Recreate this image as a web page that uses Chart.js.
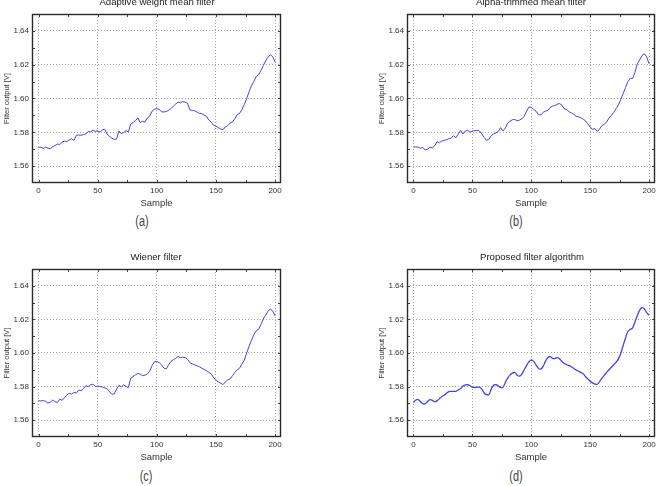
<!DOCTYPE html>
<html>
<head>
<meta charset="utf-8">
<script src="https://cdn.jsdelivr.net/npm/chart.js@4/dist/chart.umd.min.js"></script>
<style>
  html, body { margin: 0; padding: 0; background: #fff; }
  body { position: relative; width: 661px; height: 486px; overflow: hidden; font-family: "Liberation Sans", Arial, sans-serif; }
  canvas { position: absolute; }
  .ttl { position: absolute; width: 240px; text-align: center; font-size: 9.6px; line-height: 12px; color: #222; white-space: nowrap; }
  .lab { position: absolute; width: 40px; text-align: center; font-family: "Liberation Sans", Arial, sans-serif; font-size: 14px; line-height: 15px; color: #444; transform: scaleX(0.78); }
</style>
</head>
<body>
<canvas id="ca" width="291" height="205" style="left:0px;top:4px;"></canvas>
<canvas id="cb" width="290" height="205" style="left:375px;top:4px;"></canvas>
<canvas id="cc" width="291" height="204" style="left:0px;top:259px;"></canvas>
<canvas id="cd" width="290" height="204" style="left:375px;top:259px;"></canvas>

<div class="ttl" style="left:37px;top:-4px;">Adaptive weight mean filter</div>
<div class="ttl" style="left:411px;top:-4px;">Alpha-trimmed mean filter</div>
<div class="ttl" style="left:36px;top:251px;">Wiener filter</div>
<div class="ttl" style="left:412px;top:251px;">Proposed filter algorithm</div>

<div class="lab" style="left:122px;top:214px;">(a)</div>
<div class="lab" style="left:496px;top:214px;">(b)</div>
<div class="lab" style="left:126px;top:469px;">(c)</div>
<div class="lab" style="left:496px;top:469px;">(d)</div>

<script>
// ---- data ----
const samples = [0,2,4,6,8,10,12,14,16,18,20,22,24,26,28,30,32,34,36,38,40,42,44,46,48,50,52,54,56,58,60,62,64,66,68,70,72,74,76,78,80,82,84,86,88,90,92,94,96,98,100,102,104,106,108,110,112,114,116,118,120,122,124,126,128,130,132,134,136,138,140,142,144,146,148,150,152,154,156,158,160,162,164,166,168,170,172,174,176,178,180,182,184,186,188,190,192,194,196,198,200];

const adaptiveWeight = [1.5710,1.5712,1.5705,1.5712,1.5706,1.5703,1.5715,1.5722,1.5730,1.5728,1.5742,1.5748,1.5745,1.5755,1.5762,1.5752,1.5782,1.5784,1.5783,1.5786,1.5790,1.5805,1.5802,1.5812,1.5805,1.5808,1.5800,1.5815,1.5818,1.5790,1.5775,1.5765,1.5758,1.5760,1.5808,1.5792,1.5800,1.5810,1.5802,1.5850,1.5858,1.5870,1.5885,1.5858,1.5865,1.5860,1.5885,1.5895,1.5925,1.5937,1.5940,1.5935,1.5922,1.5920,1.5923,1.5930,1.5940,1.5955,1.5968,1.5978,1.5975,1.5982,1.5978,1.5972,1.5932,1.5930,1.5927,1.5920,1.5912,1.5910,1.5902,1.5895,1.5872,1.5860,1.5842,1.5836,1.5828,1.5820,1.5815,1.5832,1.5840,1.5855,1.5862,1.5880,1.5905,1.5912,1.5935,1.5965,1.6000,1.6040,1.6075,1.6100,1.6130,1.6140,1.6165,1.6195,1.6222,1.6245,1.6258,1.6248,1.6215];

const alphaTrimmed = [1.5712,1.5714,1.5712,1.5705,1.5710,1.5695,1.5700,1.5712,1.5708,1.5720,1.5745,1.5738,1.5748,1.5752,1.5756,1.5762,1.5766,1.5780,1.5768,1.5788,1.5812,1.5790,1.5808,1.5812,1.5800,1.5808,1.5810,1.5812,1.5808,1.5790,1.5770,1.5752,1.5758,1.5780,1.5790,1.5796,1.5805,1.5828,1.5808,1.5825,1.5855,1.5866,1.5874,1.5876,1.5868,1.5872,1.5880,1.5895,1.5925,1.5950,1.5948,1.5935,1.5925,1.5905,1.5902,1.5918,1.5925,1.5930,1.5947,1.5955,1.5958,1.5966,1.5970,1.5960,1.5938,1.5935,1.5922,1.5915,1.5906,1.5895,1.5892,1.5886,1.5878,1.5868,1.5850,1.5830,1.5818,1.5822,1.5805,1.5820,1.5840,1.5848,1.5862,1.5885,1.5900,1.5918,1.5940,1.5962,1.5995,1.6030,1.6065,1.6100,1.6120,1.6118,1.6155,1.6205,1.6228,1.6255,1.6265,1.6245,1.6205];

const wiener = [1.5717,1.5714,1.5718,1.5712,1.5702,1.5707,1.5720,1.5710,1.5705,1.5725,1.5718,1.5735,1.5750,1.5760,1.5755,1.5765,1.5762,1.5780,1.5775,1.5788,1.5805,1.5800,1.5810,1.5815,1.5800,1.5803,1.5800,1.5798,1.5792,1.5788,1.5770,1.5755,1.5756,1.5785,1.5808,1.5798,1.5810,1.5800,1.5795,1.5850,1.5860,1.5870,1.5878,1.5874,1.5865,1.5868,1.5875,1.5892,1.5925,1.5948,1.5950,1.5943,1.5930,1.5910,1.5905,1.5930,1.5950,1.5960,1.5968,1.5980,1.5972,1.5975,1.5972,1.5962,1.5942,1.5936,1.5930,1.5924,1.5918,1.5910,1.5902,1.5895,1.5885,1.5875,1.5855,1.5838,1.5828,1.5820,1.5812,1.5828,1.5840,1.5845,1.5865,1.5885,1.5900,1.5910,1.5935,1.5958,1.6000,1.6040,1.6075,1.6110,1.6132,1.6140,1.6170,1.6202,1.6225,1.6248,1.6262,1.6250,1.6220];

const proposed = [1.5705,1.5720,1.5723,1.5710,1.5698,1.5698,1.5712,1.5722,1.5718,1.5710,1.5715,1.5728,1.5740,1.5748,1.5760,1.5770,1.5772,1.5772,1.5772,1.5780,1.5788,1.5803,1.5810,1.5811,1.5805,1.5796,1.5795,1.5795,1.5797,1.5785,1.5762,1.5752,1.5752,1.5785,1.5808,1.5811,1.5805,1.5795,1.5797,1.5825,1.5850,1.5870,1.5880,1.5884,1.5868,1.5862,1.5875,1.5900,1.5925,1.5948,1.5957,1.5950,1.5930,1.5910,1.5904,1.5920,1.5950,1.5972,1.5979,1.5968,1.5967,1.5972,1.5965,1.5950,1.5937,1.5930,1.5926,1.5918,1.5908,1.5898,1.5892,1.5885,1.5876,1.5860,1.5846,1.5832,1.5822,1.5815,1.5814,1.5830,1.5850,1.5868,1.5885,1.5900,1.5915,1.5930,1.5945,1.5965,1.6000,1.6045,1.6090,1.6128,1.6140,1.6150,1.6185,1.6222,1.6255,1.6270,1.6262,1.6240,1.6225];

const xTickLabels = [0, 50, 100, 150, 200];
const yTickLabels = [1.56, 1.58, 1.60, 1.62, 1.64];
const xTickMarks = [0, 25, 50, 75, 100, 125, 150, 175, 200];
const yTickMarks = [1.56, 1.57, 1.58, 1.59, 1.60, 1.61, 1.62, 1.63, 1.64];
const xTitle = 'Sample';
const yTitle = 'Filter output [V]';

// ---- drawing ----
const FONT = '"Liberation Sans", Arial, sans-serif';
const LINE = '#4545dc';

const frameTicks = {
  id: 'frameTicks',
  afterDraw(chart) {
    const {ctx, chartArea: a, scales: {x, y}} = chart;
    ctx.save();
    ctx.strokeStyle = '#444';
    ctx.lineWidth = 1;
    ctx.beginPath();
    xTickMarks.forEach(v => {
      const px = Math.round(x.getPixelForValue(v)) + 0.5;
      ctx.moveTo(px, a.bottom); ctx.lineTo(px, a.bottom - 3);
      ctx.moveTo(px, a.top); ctx.lineTo(px, a.top + 3);
    });
    yTickMarks.forEach(v => {
      const py = Math.round(y.getPixelForValue(v)) + 0.5;
      ctx.moveTo(a.left, py); ctx.lineTo(a.left + 3, py);
      ctx.moveTo(a.right, py); ctx.lineTo(a.right - 3, py);
    });
    ctx.stroke();
    ctx.lineWidth = 1.4;
    ctx.strokeStyle = '#2a2a2a';
    ctx.strokeRect(Math.round(a.left) + 0.5, Math.round(a.top) + 0.5,
                   Math.round(a.right - a.left) - 1, Math.round(a.bottom - a.top) - 1);
    ctx.restore();
  }
};

function makeChart(id, series, smooth, width) {
  new Chart(document.getElementById(id), {
    type: 'line',
    data: {
      datasets: [{
        data: series.map((v, i) => ({x: samples[i], y: v})),
        borderColor: LINE,
        borderWidth: width,
        pointRadius: 0,
        tension: smooth ? 0.4 : 0,
        fill: false
      }]
    },
    options: {
      responsive: false,
      animation: false,
      events: [],
      layout: {padding: {left: 0, right: 10, top: 10, bottom: 0}},
      plugins: {legend: {display: false}, title: {display: false}, tooltip: {enabled: false}},
      scales: {
        x: {
          type: 'linear', min: -5.5, max: 205,
          afterBuildTicks: s => { s.ticks = xTickLabels.map(v => ({value: v})); },
          afterFit: s => { s.height = 26; },
          ticks: {font: {family: FONT, size: 8}, color: '#333', padding: 3, maxRotation: 0, autoSkip: false,
                  callback: v => String(v)},
          grid: {color: '#a8a8a8', lineWidth: 1, drawTicks: false},
          border: {display: false, dash: [1, 2]},
          title: {display: true, text: xTitle, font: {family: FONT, size: 9.5}, color: '#333', padding: {top: 0, bottom: 0}}
        },
        y: {
          min: 1.55, max: 1.65,
          afterBuildTicks: s => { s.ticks = yTickLabels.map(v => ({value: v})); },
          afterFit: s => { s.width = 32; },
          ticks: {font: {family: FONT, size: 8}, color: '#333', padding: 3, autoSkip: false,
                  callback: v => v.toFixed(2)},
          grid: {color: '#a8a8a8', lineWidth: 1, drawTicks: false},
          border: {display: false, dash: [1, 2]},
          title: {display: true, text: yTitle, font: {family: FONT, size: 7.5}, color: '#333', padding: {top: 2, bottom: 0}}
        }
      }
    },
    plugins: [frameTicks]
  });
}

makeChart('ca', adaptiveWeight, false, 1);
makeChart('cb', alphaTrimmed, false, 1);
makeChart('cc', wiener, false, 1);
makeChart('cd', proposed, true, 1.3);
</script>
</body>
</html>
